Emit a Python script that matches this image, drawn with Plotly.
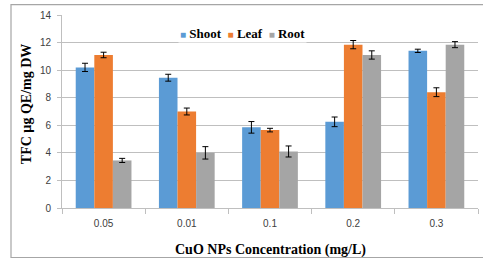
import plotly.graph_objects as go

categories = ["0.05", "0.01", "0.1", "0.2", "0.3"]
shoot = [10.2, 9.45, 5.85, 6.25, 11.4]
leaf = [11.1, 7.0, 5.65, 11.85, 8.4]
root = [3.45, 4.0, 4.1, 11.1, 11.85]
shoot_err = [0.3, 0.25, 0.42, 0.35, 0.12]
leaf_err = [0.2, 0.25, 0.13, 0.3, 0.32]
root_err = [0.15, 0.45, 0.4, 0.3, 0.22]

series = [
    ("Shoot", shoot, shoot_err, "#5B9BD5"),
    ("Leaf", leaf, leaf_err, "#ED7D31"),
    ("Root", root, root_err, "#A5A5A5"),
]

fig = go.Figure()
for name, vals, errs, col in series:
    fig.add_trace(go.Bar(
        x=categories, y=vals, name=name,
        marker=dict(color=col, line=dict(width=0)),
        error_y=dict(type="data", array=errs, color="black", thickness=1, width=3),
    ))

W, H = 483, 260
L, R, T, B = 62, 5, 14.5, 51.7
pw, ph = W - L - R, H - T - B

def px_x(x):
    return (x - L) / pw

def px_y(y):
    return (H - B - y) / ph

serif = "Liberation Serif, Times New Roman, serif"
sans = "Liberation Sans, Arial, sans-serif"

legend_text = "&nbsp;&nbsp;".join(
    f'<span style="color:{col};font-size:10px">■</span>&nbsp;<b>{name}</b>'
    for name, _, _, col in series
)

fig.update_layout(
    width=W, height=H,
    margin=dict(l=L, r=R, t=T, b=B, autoexpand=False),
    paper_bgcolor="white", plot_bgcolor="white",
    barmode="group", bargap=0.33, bargroupgap=0,
    showlegend=False,
    xaxis=dict(
        type="category", showline=True, linecolor="#BFBFBF", linewidth=1,
        ticks="outside", tickson="boundaries", ticklen=5, tickcolor="#BFBFBF",
        tickfont=dict(family=sans, size=10, color="#404040"), ticklabelstandoff=6,
        showgrid=False, automargin=False,
    ),
    yaxis=dict(
        range=[0, 14], dtick=2, showline=True, linecolor="#BFBFBF", linewidth=1,
        ticks="outside", ticklen=4, tickcolor="#BFBFBF",
        tickfont=dict(family=sans, size=10, color="#404040"), ticklabelstandoff=4,
        showgrid=True, gridcolor="#BFBFBF", gridwidth=1, zeroline=False,
        automargin=False,
    ),
    shapes=[dict(
        type="rect", xref="paper", yref="paper",
        x0=px_x(11), x1=px_x(490), y0=px_y(258), y1=px_y(4),
        line=dict(color="#A6A6A6", width=1.2), fillcolor="rgba(0,0,0,0)", layer="below",
    )],
    annotations=[
        dict(text=legend_text, xref="paper", yref="paper",
             x=px_x(242), y=px_y(33), xanchor="center", yanchor="middle",
             showarrow=False, bgcolor="white",
             font=dict(family=serif, size=13, color="black")),
        dict(text="<b>TFC µg QE/mg DW</b>", xref="paper", yref="paper",
             x=px_x(26), y=px_y(104), xanchor="center", yanchor="middle",
             textangle=-90, showarrow=False,
             font=dict(family=serif, size=14, color="black")),
        dict(text="<b>CuO NPs Concentration (mg/L)</b>", xref="paper", yref="paper",
             x=px_x(270), y=px_y(250), xanchor="center", yanchor="middle",
             showarrow=False,
             font=dict(family=serif, size=14, color="black")),
    ],
)

fig.write_html(
    "out.html",
    config={"displayModeBar": False},
    post_script="document.body.style.margin='0px';document.body.style.overflow='hidden';",
)
